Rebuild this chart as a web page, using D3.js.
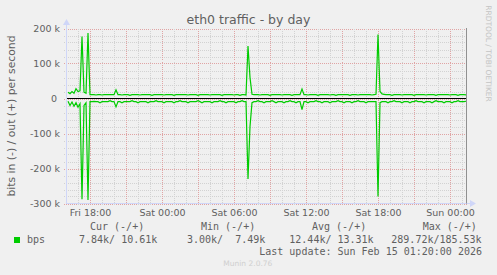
<!DOCTYPE html>
<html>
<head>
<meta charset="utf-8">
<script src="https://cdn.jsdelivr.net/npm/d3@7"></script>
<style>
  html, body { margin: 0; padding: 0; background: #f0f0f0; }
  svg { display: block; }
  text { font-family: "DejaVu Sans", sans-serif; fill: #606060; }
  .mono { font-family: "DejaVu Sans Mono", monospace; white-space: pre; }
</style>
</head>
<body>
<div id="chart-container"></div>
<script>
// samples every 10 minutes, Fri 16:10 .. Sun 01:20, values in kbit/s
const outValues = [
  18, 14, 20, 15, 28, 20, 22, 177, 18, 15,
  187, 11, 11, 11, 10, 11, 11, 10, 11, 11,
  11, 11, 11, 11, 25, 11, 11, 10, 11, 11,
  11, 9, 11, 11, 11, 11, 10, 11, 11, 11,
  11, 11, 9, 11, 11, 11, 11, 11, 10, 11,
  11, 11, 11, 9, 11, 11, 11, 11, 11, 11,
  10, 11, 11, 11, 11, 9, 11, 11, 11, 11,
  11, 10, 11, 11, 11, 11, 11, 9, 11, 11,
  11, 11, 11, 10, 11, 11, 9, 11, 11, 10,
  150, 60, 12, 11, 11, 11, 10, 11, 11, 11,
  11, 9, 11, 11, 11, 11, 11, 10, 11, 11,
  11, 11, 9, 11, 11, 11, 11, 27, 11, 11,
  10, 11, 11, 11, 11, 9, 11, 11, 11, 11,
  11, 10, 11, 11, 9, 11, 11, 11, 11, 11,
  11, 9, 11, 11, 11, 10, 11, 11, 11, 11,
  11, 11, 10, 11, 12, 183, 20, 13, 12, 11,
  11, 11, 9, 11, 11, 11, 11, 10, 11, 11,
  11, 11, 11, 9, 11, 11, 11, 11, 11, 10,
  11, 11, 11, 11, 9, 11, 11, 11, 11, 11,
  11, 10, 11, 11, 11, 9, 11, 11, 11, 10.61
];
const inValues = [
  -8, -20, -10, -22, -12, -25, -15, -288, -20, -12,
  -290, -9, -9, -8, -9, -9, -12, -9, -9, -9,
  -9, -6, -9, -9, -24, -9, -9, -12, -9, -9,
  -9, -9, -6, -9, -9, -12, -9, -9, -9, -9,
  -12, -9, -9, -9, -6, -9, -9, -9, -12, -9,
  -9, -9, -9, -12, -9, -9, -6, -9, -9, -9,
  -12, -9, -9, -9, -9, -6, -9, -12, -9, -9,
  -9, -9, -12, -9, -9, -9, -6, -9, -9, -12,
  -9, -9, -9, -9, -12, -9, -9, -6, -9, -9,
  -230, -80, -12, -9, -9, -6, -9, -9, -12, -9,
  -9, -9, -6, -9, -12, -9, -9, -9, -12, -9,
  -9, -6, -9, -9, -12, -9, -9, -32, -9, -9,
  -12, -9, -9, -9, -6, -9, -9, -12, -9, -9,
  -9, -12, -9, -9, -9, -6, -9, -9, -12, -9,
  -9, -9, -12, -9, -9, -6, -9, -9, -9, -12,
  -9, -9, -9, -9, -9, -280, -12, -9, -9, -9,
  -12, -9, -9, -6, -9, -9, -9, -12, -9, -9,
  -9, -12, -9, -9, -6, -9, -9, -9, -12, -9,
  -9, -9, -12, -9, -6, -9, -9, -9, -12, -9,
  -9, -9, -12, -9, -9, -6, -9, -9, -9, -7.84
];
const yTicks = [-300000, -200000, -100000, 0, 100000, 200000];
const legendHeaders = ['Cur (-/+)', 'Min (-/+)', 'Avg (-/+)', 'Max (-/+)'];
const legendValues = ['7.84k/ 10.61k', '3.00k/  7.49k', '12.44k/ 13.31k', '289.72k/185.53k'];
const lastUpdate = 'Last update: Sun Feb 15 01:20:00 2026';

const lineColor = '#00cc00';
const axisColor = '#cfd6f8';

const width = 497;
const height = 275;
const startTime = new Date(2026, 1, 13, 16, 5);
const endTime = new Date(2026, 1, 15, 1, 25);
const firstSample = new Date(2026, 1, 13, 16, 10);
const times = outValues.map((d, i) => new Date(+firstSample + i * 600000));

const x = d3.scaleTime().domain([startTime, endTime]).range([67, 467]);
const y = d3.scaleLinear().domain([-300000, 200000]).range([203.5, 28.5]);

const svg = d3
  .create('svg')
  .attr('width', width)
  .attr('height', height)
  .attr('viewBox', [0, 0, width, height]);

svg.append('rect').attr('width', width).attr('height', height).attr('fill', '#f0f0f0');

// grid
const grid = svg.append('g').attr('shape-rendering', 'crispEdges');
const minorY = d3.range(-300000, 200001, 20000);
grid.selectAll('.hmin')
  .data(minorY)
  .join('line')
  .attr('x1', 64).attr('x2', 467)
  .attr('y1', (d) => Math.round(y(d)) + 0.5)
  .attr('y2', (d) => Math.round(y(d)) + 0.5)
  .attr('stroke', (d) => (d % 100000 === 0 ? '#e0a4a4' : '#d2d2d2'))
  .attr('stroke-dasharray', '1,1');
grid.selectAll('.vmin')
  .data(x.ticks(d3.timeHour.every(1)))
  .join('line')
  .attr('y1', 28.5).attr('y2', 206)
  .attr('x1', (d) => Math.round(x(d)) + 0.5)
  .attr('x2', (d) => Math.round(x(d)) + 0.5)
  .attr('stroke', (d) => (d.getHours() % 3 === 0 ? '#e0a4a4' : '#d2d2d2'))
  .attr('stroke-dasharray', '1,1');

// series
const line = d3.line()
  .x((d, i) => x(times[i]))
  .y((d) => y(d * 1000));

svg.append('path')
  .datum(outValues)
  .attr('fill', 'none')
  .attr('stroke', lineColor)
  .attr('stroke-width', 1.2)
  .attr('d', line);
svg.append('path')
  .datum(inValues)
  .attr('fill', 'none')
  .attr('stroke', lineColor)
  .attr('stroke-width', 1.2)
  .attr('d', line);

// zero line
svg.append('line')
  .attr('x1', 67).attr('x2', 467)
  .attr('y1', y(0)).attr('y2', y(0))
  .attr('stroke', '#000')
  .attr('stroke-width', 1.2);

// axes lines + arrows
svg.append('line')
  .attr('x1', 66.5).attr('x2', 66.5)
  .attr('y1', 24).attr('y2', 204)
  .attr('stroke', axisColor);
svg.append('line')
  .attr('x1', 66).attr('x2', 471)
  .attr('y1', 203.5).attr('y2', 203.5)
  .attr('stroke', axisColor);
svg.append('path')
  .attr('d', 'M63,25L66.5,19L70,25Z')
  .attr('fill', axisColor);
svg.append('path')
  .attr('d', 'M470,200L476,203.5L470,207Z')
  .attr('fill', axisColor);
svg.append('line')
  .attr('x1', 466.5).attr('x2', 466.5)
  .attr('y1', 28).attr('y2', 203.5)
  .attr('stroke', '#909090');

// tick labels
const yAxis = d3.axisLeft(y)
  .tickValues(yTicks)
  .tickSize(0)
  .tickPadding(0)
  .tickFormat((d) => (d === 0 ? '0\u00a0' : String(d / 1000) + '\u00a0k'));
svg.append('g')
  .attr('transform', 'translate(60,0)')
  .call(yAxis)
  .call((g) => g.select('.domain').remove())
  .selectAll('text')
  .attr('font-size', 9.5)
  .attr('font-family', null)
  .attr('fill', null);

const xAxis = d3.axisBottom(x)
  .ticks(d3.timeHour.every(6))
  .tickSize(0)
  .tickPadding(6)
  .tickFormat(d3.timeFormat('%a %H:%M'));
svg.append('g')
  .attr('transform', 'translate(0,203.5)')
  .call(xAxis)
  .call((g) => g.select('.domain').remove())
  .selectAll('text')
  .attr('font-size', 9.5)
  .attr('font-family', null)
  .attr('fill', null);

// titles
svg.append('text')
  .attr('x', 248.5).attr('y', 24)
  .attr('text-anchor', 'middle')
  .attr('font-size', 12.5)
  .text('eth0 traffic - by day');
svg.append('text')
  .attr('transform', 'translate(15,116) rotate(-90)')
  .attr('text-anchor', 'middle')
  .attr('font-size', 10.8)
  .text('bits in (-) / out (+) per second');
svg.append('text')
  .attr('transform', 'translate(486,53.5) rotate(90)')
  .attr('text-anchor', 'middle')
  .attr('font-size', 7.5)
  .style('fill', '#c4c4c4')
  .text('RRDTOOL / TOBI OETIKER');

// legend
const headerX = [90, 201, 312, 422.7];
const valueX = [79, 187, 289.3, 391.3];
svg.selectAll('.lh')
  .data(legendHeaders)
  .join('text')
  .attr('class', 'mono')
  .attr('x', (d, i) => headerX[i]).attr('y', 230)
  .attr('font-size', 10)
  .text((d) => d);
svg.append('rect')
  .attr('x', 14).attr('y', 237)
  .attr('width', 6).attr('height', 6)
  .attr('fill', lineColor);
svg.append('text')
  .attr('class', 'mono')
  .attr('x', 27).attr('y', 242.5)
  .attr('font-size', 10)
  .text('bps');
svg.selectAll('.lv')
  .data(legendValues)
  .join('text')
  .attr('class', 'mono')
  .attr('x', (d, i) => valueX[i]).attr('y', 242.5)
  .attr('font-size', 10)
  .text((d) => d);
svg.append('text')
  .attr('class', 'mono')
  .attr('x', 482).attr('y', 254.5)
  .attr('text-anchor', 'end')
  .attr('font-size', 10)
  .text(lastUpdate);
svg.append('text')
  .attr('x', 223.3).attr('y', 266)
  .attr('font-size', 7.5)
  .style('fill', '#cfcfcf')
  .text('Munin 2.0.76');

document.getElementById('chart-container').appendChild(svg.node());
</script>
</body>
</html>
